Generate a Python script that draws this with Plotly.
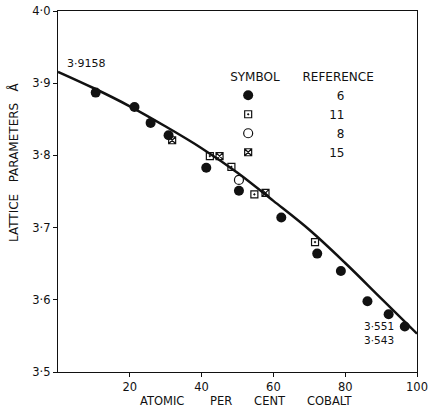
import plotly.graph_objects as go

# ---- data ----
curve_x = [0, 10, 20, 30, 40, 50, 60, 70, 80, 90, 100]
curve_y = [3.9158, 3.893, 3.868, 3.840, 3.810, 3.776, 3.737, 3.697, 3.651, 3.602, 3.553]

ref6_x = [10.5, 21.3, 25.8, 30.8, 41.3, 50.4, 62.2, 72.2, 78.8, 86.2, 92.1, 96.6]
ref6_y = [3.887, 3.867, 3.845, 3.828, 3.783, 3.751, 3.714, 3.664, 3.640, 3.598, 3.580, 3.563]

ref11_x = [42.3, 48.3, 54.7, 71.6]
ref11_y = [3.799, 3.784, 3.746, 3.680]

ref8_x = [50.4]
ref8_y = [3.766]

ref15_x = [31.8, 45.0, 57.8]
ref15_y = [3.821, 3.799, 3.748]

x_ticks = [20, 40, 60, 80, 100]
y_ticks = [3.5, 3.6, 3.7, 3.8, 3.9, 4.0]
start_value = 3.9158
end_values = [3.551, 3.543]

FONT = "DejaVu Sans"
BLACK = "#111111"
NB = "\u00a0"

def dot(v, nd=1):
    return f"{v:.{nd}f}".replace(".", "\u00b7")

fig = go.Figure()

fig.add_trace(go.Scatter(x=curve_x, y=curve_y, mode="lines",
                         line=dict(color=BLACK, width=2.5, shape="spline"),
                         showlegend=False, hoverinfo="skip"))

fig.add_trace(go.Scatter(x=ref6_x, y=ref6_y, mode="markers", name=NB * 18 + "6",
                         marker=dict(symbol="circle", size=10, color=BLACK)))
fig.add_trace(go.Scatter(x=ref11_x, y=ref11_y, mode="markers", name=NB * 16 + "11",
                         marker=dict(symbol="square-open-dot", size=7, color=BLACK,
                                     line=dict(width=1.2, color=BLACK))))
fig.add_trace(go.Scatter(x=ref8_x, y=ref8_y, mode="markers", name=NB * 18 + "8",
                         marker=dict(symbol="circle-open", size=9, color=BLACK,
                                     line=dict(width=1.2, color=BLACK))))
fig.add_trace(go.Scatter(x=ref15_x, y=ref15_y, mode="markers", name=NB * 16 + "15",
                         marker=dict(symbol="square-x-open", size=7, color=BLACK,
                                     line=dict(width=1.2, color=BLACK))))

fig.add_annotation(x=curve_x[0] + 2, y=start_value + 0.012, text=dot(start_value, 4),
                   showarrow=False, xanchor="left", yanchor="middle",
                   font=dict(family=FONT, size=11, color=BLACK))
fig.add_annotation(x=84.6, y=3.554,
                   text=dot(end_values[0], 3) + "<br>" + dot(end_values[1], 3),
                   showarrow=False, xanchor="left", yanchor="middle", align="left",
                   font=dict(family=FONT, size=10.5, color=BLACK))

# axis titles
fig.add_annotation(xref="paper", yref="paper", x=(246 - 58) / 359, y=(372 - 401) / 361,
                   text=("ATOMIC" + NB * 7 + "PER" + NB * 6 + "CENT" + NB * 6 + "COBALT"),
                   showarrow=False, xanchor="center", yanchor="middle",
                   font=dict(family=FONT, size=11.5, color=BLACK))
fig.add_annotation(xref="paper", yref="paper", x=(13 - 58) / 359, y=(372 - 162) / 361,
                   text="LATTICE" + NB * 3 + "PARAMETERS" + NB * 3 + "\u00c5", textangle=-90,
                   showarrow=False, xanchor="center", yanchor="middle",
                   font=dict(family=FONT, size=12, color=BLACK))

axis_common = dict(showgrid=False, zeroline=False, showline=True, linecolor=BLACK,
                   linewidth=1.2, mirror=True, ticks="outside", ticklen=4,
                   tickcolor=BLACK, automargin=False,
                   tickfont=dict(family=FONT, size=11.5, color=BLACK))

fig.update_xaxes(range=[0, 100], tickvals=x_ticks, ticktext=[str(v) for v in x_ticks],
                 ticklabelstandoff=0, **axis_common)
fig.update_yaxes(range=[3.5, 4.0], tickvals=y_ticks, ticktext=[dot(v) for v in y_ticks],
                 **axis_common)

fig.update_layout(
    width=434, height=410,
    margin=dict(l=58, r=17, t=11, b=38, autoexpand=False),
    paper_bgcolor="white", plot_bgcolor="white",
    font=dict(family=FONT, color=BLACK),
    legend=dict(x=0.474, y=0.85, xanchor="left", yanchor="top",
                bgcolor="rgba(0,0,0,0)",
                title=dict(text="SYMBOL" + NB * 6 + "REFERENCE",
                           font=dict(family=FONT, size=12, color=BLACK), side="top"),
                font=dict(family=FONT, size=12, color=BLACK)),
)

fig.write_html("out.html")
